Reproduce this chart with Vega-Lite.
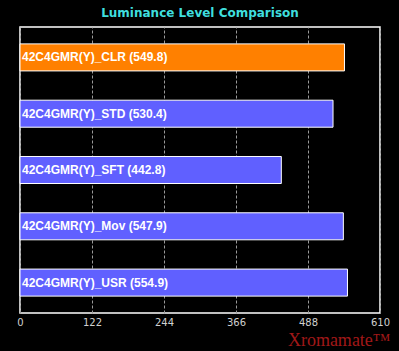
{
  "$schema": "https://vega.github.io/schema/vega-lite/v6.json",
  "background": "#000000",
  "autosize": "none",
  "padding": {"left": 20, "top": 27, "right": 19, "bottom": 38},
  "width": 360,
  "height": 286,
  "title": {
    "text": "Luminance Level Comparison",
    "color": "#3fdede",
    "font": "DejaVu Sans",
    "fontSize": 12,
    "fontWeight": "bold",
    "anchor": "middle",
    "offset": 7
  },
  "data": {
    "values": [
      {"mode": "42C4GMR(Y)_CLR", "value": 549.8, "label": "42C4GMR(Y)_CLR (549.8)", "highlight": "yes"},
      {"mode": "42C4GMR(Y)_STD", "value": 530.4, "label": "42C4GMR(Y)_STD (530.4)", "highlight": "no"},
      {"mode": "42C4GMR(Y)_SFT", "value": 442.8, "label": "42C4GMR(Y)_SFT (442.8)", "highlight": "no"},
      {"mode": "42C4GMR(Y)_Mov", "value": 547.9, "label": "42C4GMR(Y)_Mov (547.9)", "highlight": "no"},
      {"mode": "42C4GMR(Y)_USR", "value": 554.9, "label": "42C4GMR(Y)_USR (554.9)", "highlight": "no"}
    ]
  },
  "config": {
    "view": {"stroke": "#ffffff", "strokeWidth": 1.5}
  },
  "encoding": {
    "y": {
      "field": "mode",
      "type": "nominal",
      "sort": null,
      "axis": null,
      "scale": {"paddingInner": 0.52, "paddingOuter": 0.3}
    }
  },
  "layer": [
    {
      "mark": {"type": "bar", "stroke": "#ffffff", "strokeWidth": 1, "cornerRadius": 0},
      "encoding": {
        "x": {
          "field": "value",
          "type": "quantitative",
          "scale": {"domain": [0, 610], "nice": false},
          "axis": {
            "values": [0, 122, 244, 366, 488, 610],
            "grid": true,
            "gridColor": "#9a9a9a",
            "gridDash": [3, 2],
            "gridWidth": 1,
            "domain": false,
            "ticks": false,
            "labelColor": "#d0d0d0",
            "labelFont": "DejaVu Sans",
            "labelFontSize": 10,
            "labelPadding": 4,
            "labelFlush": false,
            "title": "Xromamate™",
            "titleColor": "#a01818",
            "titleFont": "Liberation Serif",
            "titleFontSize": 18,
            "titleFontWeight": "normal",
            "titleAlign": "right",
            "titleAnchor": "end",
            "titleX": 370,
            "titleY": 32,
            "titleBaseline": "alphabetic"
          }
        },
        "color": {
          "field": "highlight",
          "type": "nominal",
          "scale": {"domain": ["yes", "no"], "range": ["#ff8000", "#6060ff"]},
          "legend": null
        }
      }
    },
    {
      "mark": {
        "type": "text",
        "align": "left",
        "baseline": "middle",
        "dx": 2,
        "color": "#ffffff",
        "font": "Liberation Sans",
        "fontSize": 12,
        "fontWeight": "bold"
      },
      "encoding": {
        "x": {"datum": 0, "type": "quantitative"},
        "text": {"field": "label"}
      }
    }
  ]
}
